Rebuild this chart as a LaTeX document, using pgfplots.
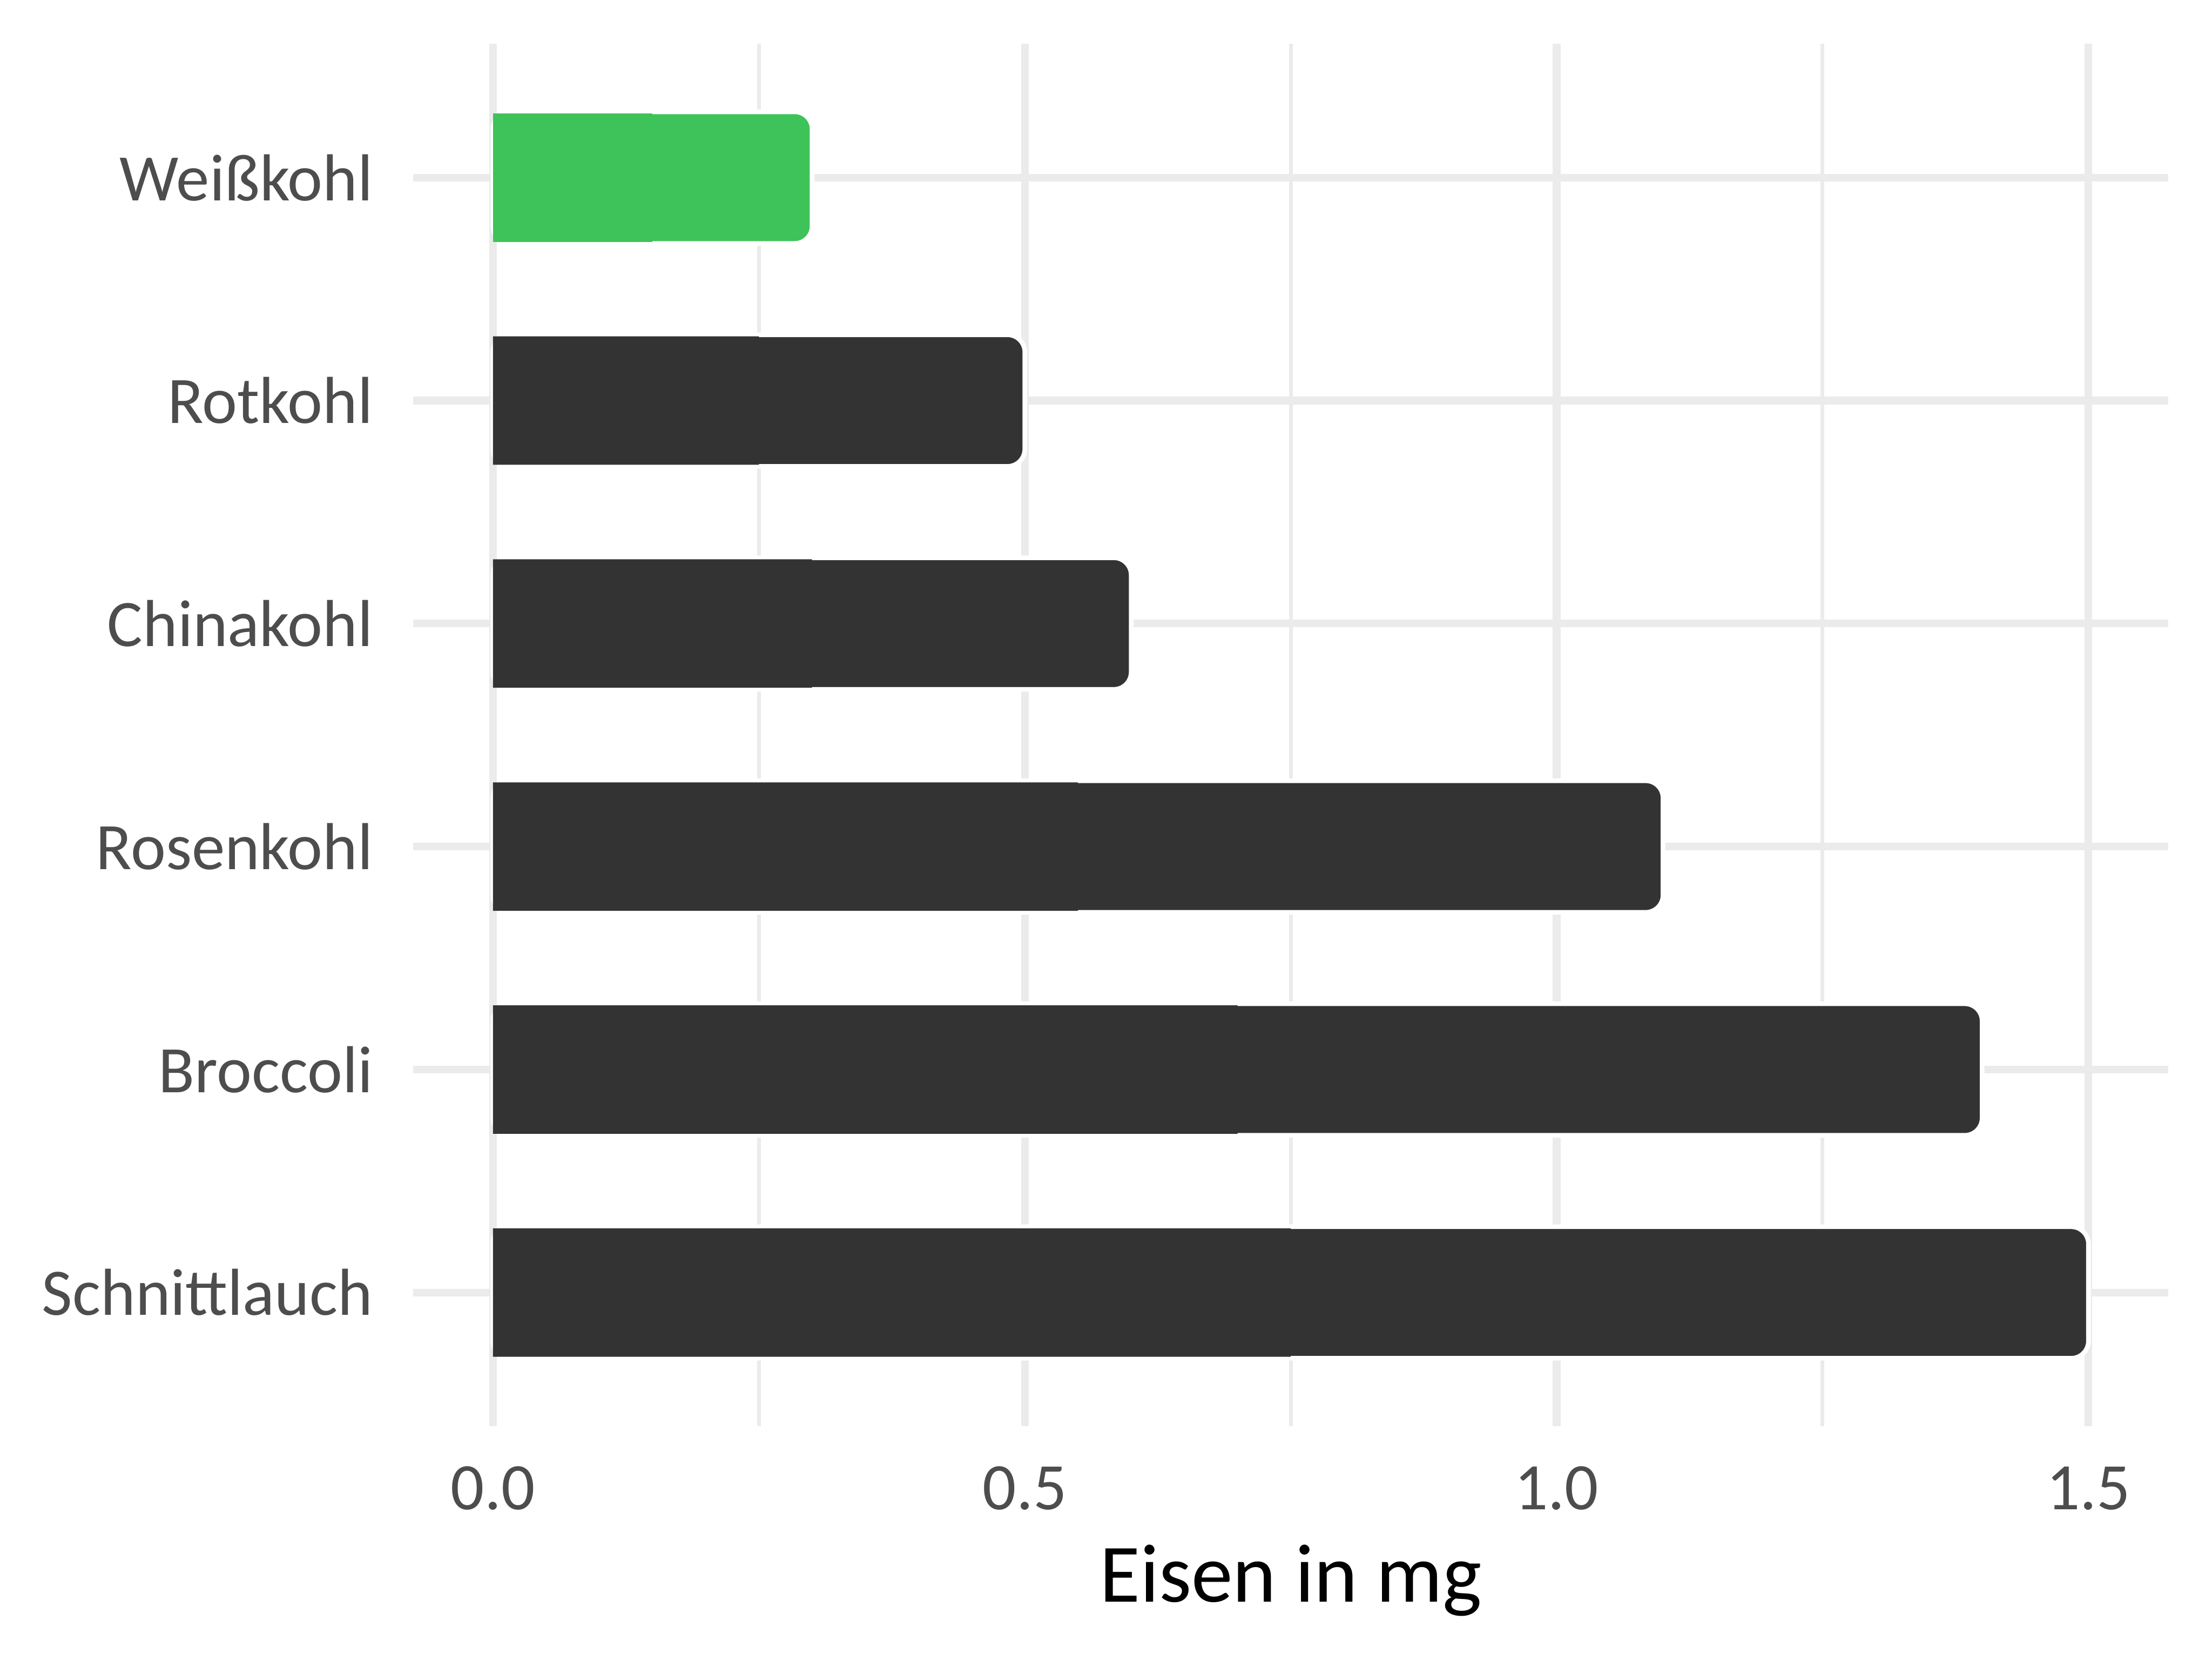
\documentclass[border=0pt]{standalone}
\usepackage{pgfplots}
\pgfplotsset{compat=1.18}
\usepackage{fontspec}
\setmainfont{Carlito}
\definecolor{gridgray}{HTML}{EBEBEB}
\definecolor{tickgray}{HTML}{4D4D4D}
\definecolor{bardark}{HTML}{333333}
\definecolor{bargreen}{HTML}{3EC35A}
\begin{document}
\begin{tikzpicture}
\path[use as bounding box] (0,0) rectangle (576pt,432pt);
\begin{axis}[
  at={(107.6pt,60.7pt)}, anchor=south west,
  scale only axis, width=457pt, height=359.9pt,
  xmin=-0.075, xmax=1.575, ymin=-0.6, ymax=5.6,
  xtick={0,0.5,1,1.5}, xticklabels={0.0,0.5,1.0,1.5},
  minor xtick={0.25,0.75,1.25},
  ytick={0,1,2,3,4,5},
  yticklabels={Schnittlauch,Broccoli,Rosenkohl,Chinakohl,Rotkohl,Weißkohl},
  xmajorgrids, xminorgrids, ymajorgrids,
  major grid style={color=gridgray, line width=2pt},
  minor grid style={color=gridgray, line width=1pt},
  axis line style={draw=none},
  major tick length=0pt, minor tick length=0pt,
  tick style={draw=none},
  ticklabel style={font=\fontsize{17.3}{20}\selectfont, text=tickgray, inner sep=0pt},
  yticklabel shift=10.3pt,
  xticklabel shift=10.3pt,
  xlabel={Eisen in mg},
  every axis x label/.style={at={(axis description cs:0.5,0)}, anchor=base, yshift=-45.7pt, font=\fontsize{21.6}{25}\selectfont, text=black},
]
% full bars with rounded corners
\addplot[xbar, bar width=0.59, bar shift=0pt, fill=bardark, draw=white, line width=1.2pt, rounded corners=4.5pt]
  coordinates {(1.5,0) (1.4,1) (1.1,2) (0.6,3) (0.5,4)};
\addplot[xbar, bar width=0.59, bar shift=0pt, fill=bargreen, draw=white, line width=1.2pt, rounded corners=4.5pt]
  coordinates {(0.3,5)};
% square left halves
\addplot[xbar, bar width=0.576, bar shift=0pt, fill=bardark, draw=none]
  coordinates {(0.75,0) (0.7,1) (0.55,2) (0.3,3) (0.25,4)};
\addplot[xbar, bar width=0.576, bar shift=0pt, fill=bargreen, draw=none]
  coordinates {(0.15,5)};
\end{axis}
\end{tikzpicture}
\end{document}
